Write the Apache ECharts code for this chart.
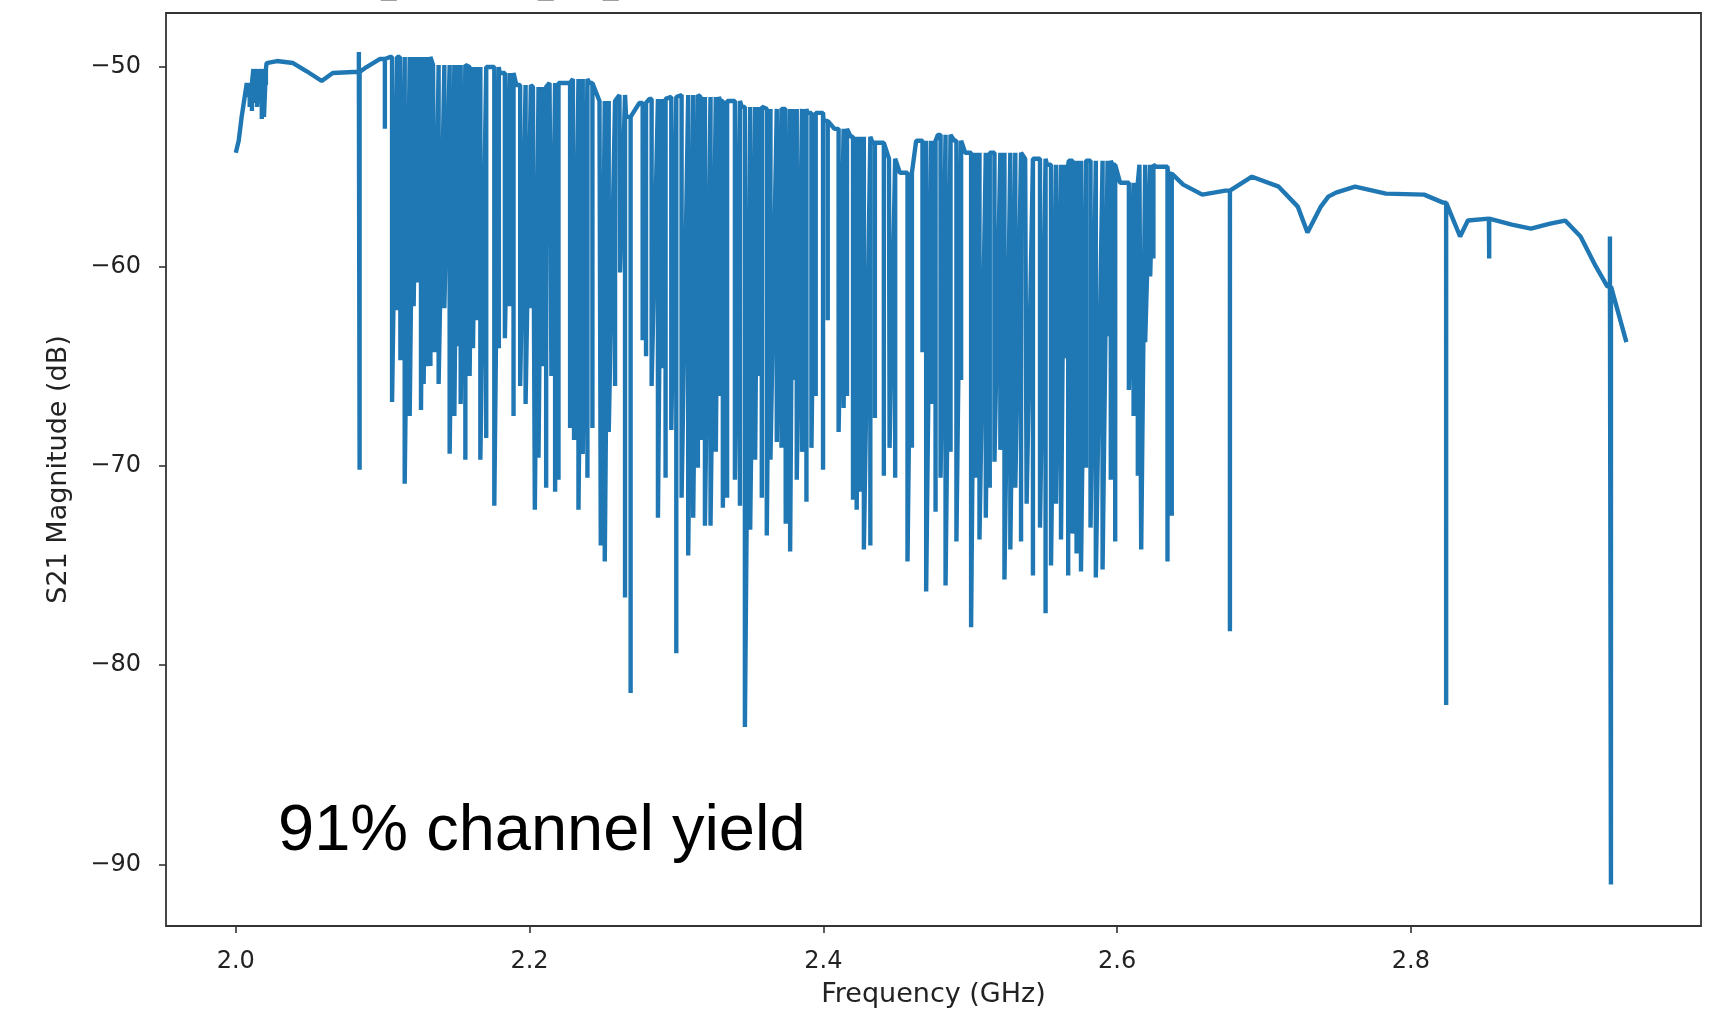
<!DOCTYPE html>
<html>
<head>
<meta charset="utf-8">
<script src="https://cdn.jsdelivr.net/npm/echarts@6/dist/echarts.min.js"></script>
<style>html,body{margin:0;padding:0;background:#fff;}#c{width:1711px;height:1014px;}</style>
</head>
<body>
<div id="c"></div>
<script>
// Continuous transmission curve (top envelope)
const baseF = [2.000,2.002,2.004,2.0075,2.012,2.021,2.028,2.039,2.048,2.0585,2.066,2.080,2.089,2.098,2.105,2.1117,2.1343,2.157,2.1796,2.191,2.2023,2.2136,2.2295,2.2408,2.2476,2.2612,2.2657,2.2748,2.2816,2.2929,2.3001,2.3149,2.3297,2.3445,2.3594,2.3742,2.3890,2.4002,2.4076,2.4187,2.4335,2.4447,2.4521,2.4632,2.4780,2.4892,2.4966,2.5151,2.5374,2.5522,2.5671,2.5819,2.5967,2.6020,2.6152,2.6264,2.6347,2.645,2.658,2.6737,2.6918,2.710,2.723,2.7296,2.7387,2.7438,2.749,2.762,2.783,2.809,2.8219,2.8335,2.8388,2.8531,2.8687,2.8817,2.8948,2.905,2.9155,2.9259,2.9337,2.9467];
const baseDb = [-54.3,-53.7,-52.5,-50.8,-50.1,-49.8,-49.7,-49.8,-50.2,-50.7,-50.3,-50.25,-50.0,-49.6,-49.5,-49.5,-49.9,-50.0,-50.3,-50.9,-51.0,-50.8,-50.6,-50.8,-51.7,-51.4,-52.5,-51.8,-51.6,-51.5,-51.4,-51.5,-51.7,-52.0,-52.1,-52.1,-52.3,-52.7,-53.1,-53.5,-53.8,-54.6,-55.3,-53.7,-53.4,-53.7,-54.3,-54.3,-54.6,-54.9,-54.7,-54.7,-54.9,-55.8,-54.9,-55.0,-55.35,-55.9,-56.4,-56.2,-55.5,-56.0,-57.0,-58.3,-57.0,-56.5,-56.3,-56.0,-56.35,-56.4,-56.8,-58.5,-57.7,-57.6,-57.9,-58.1,-57.85,-57.7,-58.5,-60.0,-61.0,-63.8];

// Resonance dips (frequency GHz, extreme value dB)
const dipF = [
  2.0080,2.0095,2.0110,2.0125,2.0145,2.0160,2.0177,2.0192,2.0205,
  2.0838,2.0843,2.1015,
  2.1064,2.1098,2.1121,2.1150,2.1184,2.1211,2.1234,2.1261,2.1279,2.1302,2.1325,2.1354,2.1381,2.1420,2.1456,2.1488,2.1510,2.1531,2.1563,2.1592,2.1615,2.1637,2.1665,2.1705,2.1760,2.1791,2.1832,2.1864,2.1891,2.1936,2.1973,2.2009,2.2036,2.2061,2.2084,2.2113,2.2149,2.2174,2.2197,
  2.2276,2.2303,2.2333,2.2362,2.2394,2.2428,2.2485,2.2512,2.2539,2.2582,2.2616,2.2650,2.2688,
  2.2770,2.2793,2.2831,2.2874,2.2899,2.2926,2.2965,2.2999,2.3035,2.3080,2.3114,2.3146,2.3164,2.3194,2.3232,2.3268,2.3289,2.3316,2.3345,2.3398,2.3432,2.3466,2.3502,2.3536,2.3554,2.3581,2.3615,2.3640,2.3683,2.3715,2.3744,2.3774,2.3794,2.3819,2.3855,2.3885,2.3919,2.3948,2.3998,2.4030,2.4104,2.4138,2.4161,2.4202,2.4227,2.4249,2.4276,2.4320,2.4351,2.4412,2.4451,2.4489,2.4573,
  2.4603,2.4675,2.4700,2.4734,2.4764,2.4798,2.4832,2.4866,2.4906,2.4938,2.5006,2.5033,2.5063,2.5106,2.5133,2.5165,2.5205,2.5233,2.5273,2.5307,2.5346,2.5384,2.5427,2.5475,2.5513,2.5550,2.5584,2.5618,2.5640,2.5667,2.5697,2.5724,2.5754,2.5788,2.5819,2.5855,2.5901,2.5935,2.5957,2.5987,
  2.6080,2.6112,2.6141,2.6164,2.6191,2.6225,2.6247,2.6343,2.6372,
  2.6768,2.8240,2.8533,2.9355,2.9362
];
const dipDb = [
  -51.5,-52.0,-52.2,-51.8,-52.0,-51.7,-52.6,-52.5,-50.9,
  -49.25,-70.2,-53.1,
  -66.8,-62.2,-64.7,-70.9,-67.5,-62.0,-60.8,-67.2,-65.9,-65.0,-65.0,-64.3,-65.9,-62.1,-69.4,-67.5,-64.0,-66.9,-69.7,-65.5,-64.1,-62.7,-69.7,-68.6,-72.0,-64.1,-63.6,-62.0,-67.5,-66.0,-66.9,-62.1,-72.2,-69.6,-65.0,-71.1,-65.5,-71.3,-70.7,
  -68.1,-68.7,-72.2,-69.4,-70.6,-68.1,-74.0,-74.8,-68.3,-66.0,-60.3,-76.6,-81.4,
  -63.7,-64.5,-66.0,-72.6,-65.1,-70.6,-68.2,-79.4,-71.6,-74.5,-72.6,-70.1,-68.7,-73.0,-73.0,-69.3,-66.5,-72.1,-71.6,-70.7,-72.0,-83.1,-73.2,-69.7,-65.5,-71.6,-73.5,-69.7,-68.8,-69.1,-72.9,-74.3,-65.7,-70.7,-69.3,-71.8,-69.1,-66.5,-70.2,-62.7,-68.3,-67.1,-66.5,-71.7,-72.2,-71.3,-74.2,-74.0,-67.6,-70.5,-69.1,-70.6,-74.8,
  -69.1,-64.3,-76.3,-66.9,-72.3,-70.6,-76.0,-69.3,-73.8,-65.7,-78.1,-70.6,-73.7,-72.6,-71.1,-69.8,-69.2,-75.7,-74.2,-71.1,-73.8,-71.9,-75.5,-73.1,-77.4,-75.0,-71.9,-73.7,-64.6,-75.5,-73.4,-74.4,-75.3,-70.1,-73.1,-75.6,-75.2,-63.5,-70.7,-73.8,
  -66.2,-67.5,-70.5,-74.2,-63.8,-60.5,-59.6,-74.8,-72.5,
  -78.3,-82.0,-59.6,-58.5,-91.0
];

const xTicks = [2.0, 2.2, 2.4, 2.6, 2.8];
const yTicks = [-90, -80, -70, -60, -50];
const xName = 'Frequency (GHz)';
const yName = 'S21 Magnitude (dB)';
const noteText = '91% channel yield';
const titleBits = ['_', '_', '_', ','];

// resonances closer than this are joined as a sawtooth (no return to the top in between)
const JOIN_GAP = 0.0046;

function topAt(f) {
  let v = baseDb[0];
  for (let i = 0; i < baseF.length; i++) {
    if (baseF[i] <= f) v = baseDb[i]; else break;
  }
  return v;
}
const events = [];
const nb = Math.min(baseF.length, baseDb.length);
for (let i = 0; i < nb; i++) events.push({ f: baseF[i], k: 0, v: baseDb[i] });
const nd = Math.min(dipF.length, dipDb.length);
for (let i = 0; i < nd; i++) events.push({ f: dipF[i], k: 1, v: dipDb[i] });
events.sort((a, b) => (a.f - b.f) || (a.k - b.k));
const lineData = [];
for (let j = 0; j < events.length; j++) {
  const e = events[j];
  if (e.k === 0) { lineData.push([e.f, e.v]); continue; }
  const t = topAt(e.f);
  lineData.push([e.f, t], [e.f, e.v]);
  const nx = events[j + 1];
  const joined = nx && nx.k === 1 && (nx.f - e.f) < JOIN_GAP && e.v < t;
  if (!joined) lineData.push([e.f, t]);
}

const FONT = "'DejaVu Sans', sans-serif";
const minus = s => String(s).replace('-', '\u2212');

const chart = echarts.init(document.getElementById('c'), null, { renderer: 'canvas' });
chart.setOption({
  animation: false,
  backgroundColor: '#ffffff',
  grid: { left: 166, top: 13, width: 1535, height: 913, show: true, borderColor: '#333', borderWidth: 1.8, backgroundColor: 'transparent' },
  xAxis: {
    type: 'value', min: 1.9525, max: 2.9975,
    axisLine: { show: false },
    splitLine: { show: false },
    axisTick: { show: true, inside: false, length: 7, lineStyle: { color: '#333', width: 1.6 }, customValues: xTicks },
    axisLabel: { customValues: xTicks, formatter: v => v.toFixed(1), fontFamily: FONT, fontSize: 24, color: '#222', margin: 24 },
    name: xName, nameLocation: 'middle', nameGap: 55,
    nameTextStyle: { fontFamily: FONT, fontSize: 27, color: '#222' }
  },
  yAxis: {
    type: 'value', min: -93.08, max: -47.29,
    axisLine: { show: false },
    splitLine: { show: false },
    axisTick: { show: true, inside: false, length: 7, lineStyle: { color: '#333', width: 1.6 }, customValues: yTicks },
    axisLabel: { customValues: yTicks, formatter: v => minus(v), fontFamily: FONT, fontSize: 24, color: '#222', margin: 25 },
    name: yName, nameLocation: 'middle', nameGap: 94, nameRotate: 90,
    nameTextStyle: { fontFamily: FONT, fontSize: 27, color: '#222' }
  },
  series: [{
    type: 'line', data: lineData, showSymbol: false, symbol: 'none', sampling: null,
    lineStyle: { color: '#1f77b4', width: 4.4, join: 'bevel', cap: 'butt' },
    clip: true, z: 3
  }],
  graphic: [
    { type: 'text', left: 278, top: 800, z: 10, style: { text: noteText, font: "65px 'Liberation Sans', Arial, sans-serif", fill: '#000' } },
    { type: 'text', x: 381, y: -14.2, z: 10, style: { text: titleBits[0], font: "31px 'DejaVu Sans'", fill: '#a0a0a0', verticalAlign: 'middle' } },
    { type: 'text', x: 538, y: -14.2, z: 10, style: { text: titleBits[1], font: "31px 'DejaVu Sans'", fill: '#a0a0a0', verticalAlign: 'middle' } },
    { type: 'text', x: 603, y: -14.2, z: 10, style: { text: titleBits[2], font: "31px 'DejaVu Sans'", fill: '#a0a0a0', verticalAlign: 'middle' } },
    { type: 'text', x: 670, y: -15.5, z: 10, style: { text: titleBits[3], font: "31px 'DejaVu Sans'", fill: '#888', verticalAlign: 'middle' } }
  ]
});
</script>
</body>
</html>
